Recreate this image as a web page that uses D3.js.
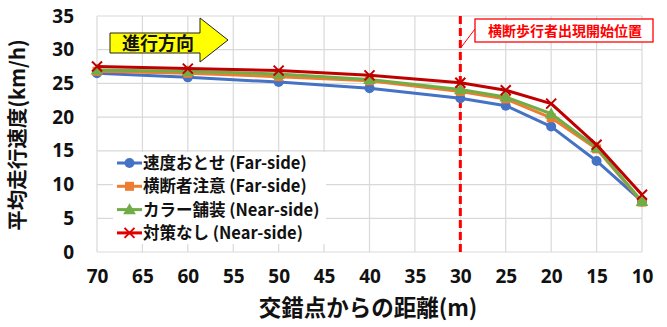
<!DOCTYPE html>
<html><head><meta charset="utf-8">
<script src="https://cdn.jsdelivr.net/npm/d3@7"></script>
<style>
body{margin:0;background:#fff;}
text{font-family:"Open Sans","Noto Sans CJK JP",sans-serif;}
.jp{font-family:"Noto Sans CJK JP",sans-serif;}
</style></head>
<body><svg id="c" width="667" height="327"></svg>
<script>
// Distance from the crossing point (m)
const distances = [70, 60, 50, 40, 30, 25, 20, 15, 10];
const xTicks = [70, 65, 60, 55, 50, 45, 40, 35, 30, 25, 20, 15, 10];
const yTicks = [0, 5, 10, 15, 20, 25, 30, 35];

// Average running speed (km/h) per countermeasure
const slowDownFar   = [26.5, 25.9, 25.2, 24.3, 22.8, 21.7, 18.6, 13.5, 7.5];
const crossingFar   = [26.8, 26.5, 26.0, 25.4, 23.8, 22.7, 19.9, 15.3, 7.4];
const colorPaveNear = [27.0, 26.8, 26.4, 25.6, 24.1, 23.0, 20.5, 15.5, 7.5];
const noMeasureNear = [27.5, 27.2, 26.9, 26.2, 25.1, 24.0, 22.0, 15.9, 8.5];

const seriesNames = ["速度おとせ (Far-side)", "横断者注意 (Far-side)", "カラー舗装 (Near-side)", "対策なし (Near-side)"];
const seriesColors = ["#4472C4", "#ED7D31", "#70AD47", "#C00000"];
const seriesMarks = ["circle", "square", "triangle", "cross"];
const seriesValues = [slowDownFar, crossingFar, colorPaveNear, noMeasureNear];

const svg = d3.select("#c");
const x = d3.scaleLinear().domain([70, 10]).range([97, 642]);
const y = d3.scaleLinear().domain([0, 35]).range([252, 16]);

// grid
const g = svg.append("g");
g.selectAll(".hg").data(yTicks).join("line")
  .attr("x1", x(70)).attr("x2", x(10)).attr("y1", d => y(d)).attr("y2", d => y(d))
  .attr("stroke", "#d9d9d9").attr("stroke-width", 1.2);
g.selectAll(".vg").data(xTicks).join("line")
  .attr("x1", d => x(d)).attr("x2", d => x(d)).attr("y1", y(0)).attr("y2", y(35))
  .attr("stroke", "#d9d9d9").attr("stroke-width", 1.2);

// axes (labels only)
const yAxis = svg.append("g").attr("transform", `translate(${x(70)},0)`)
  .call(d3.axisLeft(y).tickValues(yTicks).tickSize(0).tickPadding(23));
const xAxis = svg.append("g").attr("transform", `translate(0,${y(0)})`)
  .call(d3.axisBottom(x).tickValues(xTicks).tickSize(0).tickPadding(18));
[yAxis, xAxis].forEach(a => {
  a.select(".domain").remove();
  a.selectAll("text").attr("font-size", 19).attr("font-weight", "bold")
    .attr("fill", "#111").style("font-family", "'Open Sans',sans-serif");
});

// axis titles
svg.append("text").attr("class", "jp")
  .attr("transform", `translate(25,${(y(0) + y(35)) / 2 + 1}) rotate(-90)`)
  .attr("text-anchor", "middle").attr("font-size", 20.5).attr("font-weight", "bold")
  .attr("fill", "#111").text("平均走行速度(km/h)");
svg.append("text").attr("class", "jp")
  .attr("x", 368).attr("y", 316).attr("text-anchor", "middle")
  .attr("font-size", 22.5).attr("font-weight", "bold").attr("fill", "#111")
  .text("交錯点からの距離(m)");

// pedestrian appearance start position
svg.append("line").attr("x1", x(30)).attr("x2", x(30)).attr("y1", y(35)).attr("y2", y(0))
  .attr("stroke", "#FF0000").attr("stroke-width", 3).attr("stroke-dasharray", "8,4");
svg.append("line").attr("x1", 475).attr("y1", 29).attr("x2", x(30) + 1).attr("y2", 47)
  .attr("stroke", "#FF0000").attr("stroke-width", 1);
svg.append("rect").attr("x", 475).attr("y", 19).attr("width", 178).attr("height", 23)
  .attr("fill", "#fff").attr("stroke", "#FF0000").attr("stroke-width", 1.3);
svg.append("text").attr("class", "jp").attr("x", 565).attr("y", 35.5)
  .attr("text-anchor", "middle").attr("font-size", 14).attr("font-weight", "bold")
  .attr("fill", "#FF0000").text("横断歩行者出現開始位置");

// direction arrow
svg.append("path")
  .attr("d", "M110,33 H200 V18 L228,40 L200,62 V53 H110 Z")
  .attr("fill", "#FFFF00").attr("stroke", "#222").attr("stroke-width", 1);
svg.append("text").attr("class", "jp").attr("x", 122).attr("y", 50)
  .attr("font-size", 18).attr("font-weight", "bold").attr("fill", "#111").text("進行方向");

// markers
function drawMark(sel, type, color, cx, cy) {
  if (type === "circle") {
    sel.append("circle").attr("cx", cx).attr("cy", cy).attr("r", 5).attr("fill", color);
  } else if (type === "square") {
    sel.append("rect").attr("x", cx - 4.5).attr("y", cy - 4.5).attr("width", 9).attr("height", 9).attr("fill", color);
  } else if (type === "triangle") {
    sel.append("path").attr("d", d3.symbol(d3.symbolTriangle, 70)()).attr("transform", `translate(${cx},${cy + 1})`).attr("fill", color);
  } else {
    sel.append("path").attr("d", `M${cx - 5},${cy - 5} L${cx + 5},${cy + 5} M${cx - 5},${cy + 5} L${cx + 5},${cy - 5}`)
      .attr("stroke", color).attr("stroke-width", 2);
  }
}

const line = d3.line().x((d, i) => x(distances[i])).y(d => y(d));
seriesValues.forEach((vals, s) => {
  const sg = svg.append("g");
  sg.append("path").attr("d", line(vals)).attr("fill", "none")
    .attr("stroke", seriesColors[s]).attr("stroke-width", 3).attr("stroke-linejoin", "round");
  vals.forEach((v, i) => drawMark(sg, seriesMarks[s], seriesColors[s], x(distances[i]), y(v)));
});

// legend
const lg = svg.append("g");
lg.append("rect").attr("x", 113).attr("y", 152).attr("width", 213).attr("height", 92).attr("fill", "#fff");
seriesNames.forEach((name, s) => {
  const ly = 163 + s * 23.3;
  const lc = s === 3 ? "#E00000" : seriesColors[s];
  lg.append("line").attr("x1", 117).attr("x2", 142).attr("y1", ly).attr("y2", ly)
    .attr("stroke", lc).attr("stroke-width", 3);
  drawMark(lg, seriesMarks[s], lc, 129.5, ly);
  lg.append("text").attr("class", "jp").attr("x", 143).attr("y", ly + 6)
    .attr("font-size", 16.5).attr("font-weight", "bold").attr("fill", "#111").text(name);
});
</script></body></html>
